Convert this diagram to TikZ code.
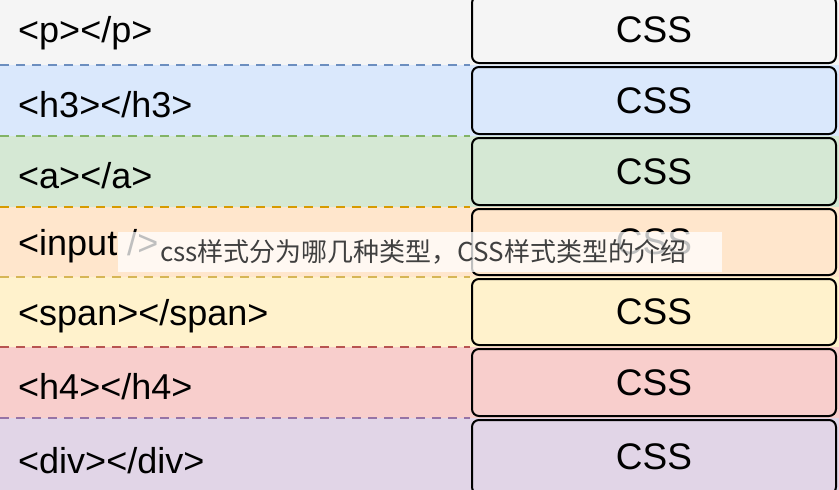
\documentclass[tikz,border=0pt]{standalone}
\usepackage{fontspec}
\setmainfont{Liberation Sans}
\newfontfamily\cjk{Noto Sans CJK SC}
\usetikzlibrary{positioning}
\definecolor{fillp}{HTML}{F5F5F5}
\definecolor{fillb}{HTML}{DAE8FC}\definecolor{lineb}{HTML}{6C8EBF}
\definecolor{fillg}{HTML}{D5E8D4}\definecolor{lineg}{HTML}{82B366}
\definecolor{fillo}{HTML}{FFE6CC}\definecolor{lineo}{HTML}{D79B00}
\definecolor{filly}{HTML}{FFF2CC}\definecolor{liney}{HTML}{D6B656}
\definecolor{fillr}{HTML}{F8CECC}\definecolor{liner}{HTML}{B85450}
\definecolor{fillv}{HTML}{E1D5E7}\definecolor{linev}{HTML}{9673A6}
\tikzstyle{tag} = [anchor=west, font=\fontsize{36}{40}\selectfont, inner sep=0pt]
\tikzstyle{cssbox} = [rectangle, rounded corners=7pt, draw=black, line width=2pt, minimum width=364pt, font=\fontsize{37}{40}\selectfont]
\tikzstyle{sep} = [dashed, line width=2pt, dash pattern=on 9pt off 7pt]
\begin{document}
\begin{tikzpicture}[x=1pt,y=-1pt]
\useasboundingbox (0,0) rectangle (839,490);
\foreach \top/\bot/\fc/\lc/\txt/\nm in {-6/65/fillp/fillp/{<p></p>}/p,
    65/136/fillb/lineb/{<h3></h3>}/h3, 136/207/fillg/lineg/{<a></a>}/a,
    207/277/fillo/lineo/{<input />}/input, 277/347/filly/liney/{<span></span>}/span,
    347/418/fillr/liner/{<h4></h4>}/h4, 418/496/fillv/linev/{<div></div>}/div}{
  \fill[\fc] (0,\top) rectangle (839,\bot);
  \draw[sep,\lc] (0,\top) -- (470,\top);
  \node (tag-\nm) [tag] at (18,{(\top+\bot)/2+4}) {\txt};
  \node (css-\nm) [cssbox, fill=\fc, minimum height={\bot-\top-4}, anchor=west]
    at (471,{(\top+\bot)/2}) {\raisebox{-5pt}{CSS}};
}
\node (mark) [fill=white, fill opacity=0.75, text opacity=1, minimum height=40pt,
  text=black!75, font=\cjk\fontsize{26}{28}\selectfont, inner xsep=42pt, text width=520pt, align=left]
  at (420,252) {css样式分为哪几种类型，CSS样式类型的介绍};
\end{tikzpicture}
\end{document}
